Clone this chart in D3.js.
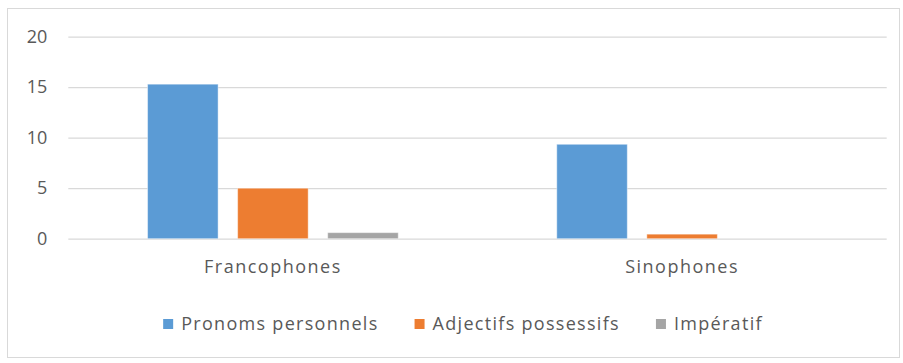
<!DOCTYPE html>
<html>
<head>
<meta charset="utf-8">
<script src="https://cdn.jsdelivr.net/npm/d3@7"></script>
<style>
  html, body { margin: 0; padding: 0; background: #fff; }
  svg text { font-family: "Open Sans", sans-serif; fill: #595959; }
</style>
</head>
<body>
<svg id="chart" width="903" height="363"></svg>
<script>
// Categories, series and their values
const categories = ["Francophones", "Sinophones"];
const seriesNames = ["Pronoms personnels", "Adjectifs possessifs", "Impératif"];
const pronomsPersonnels = [15.3, 9.35];
const adjectifsPossessifs = [5.0, 0.45];
const imperatif = [0.6, 0];
const yTicks = [0, 5, 10, 15, 20];
const colors = ["#5b9bd5", "#ed7d31", "#a5a5a5"];

const seriesValues = [pronomsPersonnels, adjectifsPossessifs, imperatif];
const rows = categories.map((c, i) => ({
  category: c,
  values: seriesNames.map((s, j) => ({ series: s, idx: j, value: seriesValues[j][i] }))
}));

const svg = d3.select("#chart");

// Outer chart frame
svg.append("rect")
  .attr("x", 7.5).attr("y", 8.5)
  .attr("width", 892).attr("height", 349)
  .attr("fill", "#fff")
  .attr("stroke", "#d9d9d9").attr("stroke-width", 1);

const plot = { left: 68.3, right: 886.7, top: 36.7, bottom: 238.7 };

const x0 = d3.scaleBand()
  .domain(categories)
  .range([plot.left, plot.right])
  .paddingInner(0).paddingOuter(0);

const x1 = d3.scaleBand()
  .domain(seriesNames)
  .range([0, x0.bandwidth()])
  .paddingInner(0.2167)
  .paddingOuter(0.88);

const y = d3.scaleLinear()
  .domain([0, 20])
  .range([plot.bottom, plot.top]);

// Horizontal gridlines and y-axis labels
const yAxis = d3.axisLeft(y)
  .tickValues(yTicks)
  .tickSize(-(plot.right - plot.left))
  .tickPadding(21)
  .tickFormat(d3.format("d"));

const gy = svg.append("g")
  .attr("transform", `translate(${plot.left},0)`)
  .call(yAxis);
gy.select(".domain").remove();
gy.selectAll(".tick line").attr("stroke", "#d9d9d9").attr("stroke-width", 1.3);
gy.selectAll(".tick text")
  .attr("font-size", 18)
  .attr("font-family", "Open Sans, sans-serif")
  .attr("fill", "#595959");

// Bars
const groups = svg.append("g").selectAll("g")
  .data(rows)
  .join("g")
  .attr("transform", d => `translate(${x0(d.category)},0)`);

groups.selectAll("rect")
  .data(d => d.values)
  .join("rect")
  .attr("x", d => x1(d.series))
  .attr("width", x1.bandwidth())
  .attr("y", d => y(d.value))
  .attr("height", d => y(0) - y(d.value))
  .attr("fill", d => colors[d.idx])
  .attr("stroke", "#ffffff")
  .attr("stroke-opacity", 0.45)
  .attr("stroke-width", 1);

// Category axis labels
const xAxis = d3.axisBottom(x0).tickSize(0).tickPadding(22);
const gx = svg.append("g")
  .attr("transform", `translate(0,${plot.bottom})`)
  .call(xAxis);
gx.select(".domain").remove();
gx.selectAll(".tick text")
  .attr("font-size", 18)
  .attr("font-family", "Open Sans, sans-serif")
  .attr("letter-spacing", "1.5px")
  .attr("fill", "#595959");

// Legend
const legend = svg.append("g");
const items = legend.selectAll("g")
  .data(seriesNames)
  .join("g");
items.append("rect")
  .attr("width", 10).attr("height", 10)
  .attr("y", -5)
  .attr("fill", (d, i) => colors[i]);
items.append("text")
  .attr("x", 18)
  .attr("dy", "0.35em")
  .attr("font-size", 18)
  .attr("letter-spacing", "1.3px")
  .text(d => d);

const itemGap = 36;
const widths = [];
items.each(function () {
  widths.push(this.getBBox().width);
});
const total = d3.sum(widths) + itemGap * (widths.length - 1);
const legendCenter = 463;
let cx = legendCenter - total / 2;
items.attr("transform", (d, i) => {
  const t = `translate(${cx},324)`;
  cx += widths[i] + itemGap;
  return t;
});
</script>
</body>
</html>
